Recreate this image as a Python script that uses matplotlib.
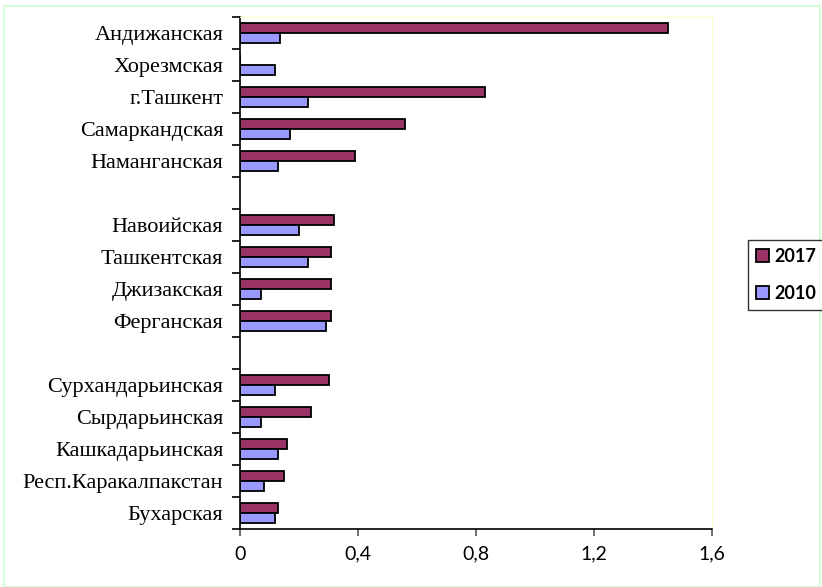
import numpy as np
import matplotlib
matplotlib.use('Agg')
import matplotlib.pyplot as plt
from matplotlib.patches import Rectangle

# данные (пустые строки — промежутки между группами)
regions = ['Андижанская', 'Хорезмская', 'г.Ташкент', 'Самаркандская', 'Наманганская',
           '', 'Навоийская', 'Ташкентская', 'Джизакская', 'Ферганская',
           '', 'Сурхандарьинская', 'Сырдарьинская', 'Кашкадарьинская',
           'Респ.Каракалпакстан', 'Бухарская']
v2017 = [1.45, 0.0, 0.83, 0.56, 0.39, np.nan, 0.32, 0.31, 0.31, 0.31,
         np.nan, 0.30, 0.24, 0.16, 0.15, 0.13]
v2010 = [0.135, 0.12, 0.23, 0.17, 0.13, np.nan, 0.20, 0.23, 0.07, 0.29,
         np.nan, 0.12, 0.07, 0.13, 0.08, 0.12]
xticks = [0, 0.4, 0.8, 1.2, 1.6]
xtick_labels = ['0', '0,4', '0,8', '1,2', '1,6']

fig = plt.figure(figsize=(8.22, 5.87), dpi=100)
# рамка области диаграммы
fig.patches.append(Rectangle((4 / 822, 0), 816 / 822, 581 / 587, transform=fig.transFigure,
                             fill=False, edgecolor='#ccffcc', linewidth=1.2))

ax = fig.add_axes([240 / 822, 58 / 587, 472 / 822, 512 / 587])
y = np.arange(len(regions))
h = 0.31
ax.barh(y - h / 2, v2017, height=h, color='#993366', edgecolor='black', linewidth=1.3, label='2017')
ax.barh(y + h / 2, v2010, height=h, color='#9999FF', edgecolor='black', linewidth=1.3, label='2010')

ax.set_ylim(len(regions) - 0.5, -0.5)
ax.set_xlim(0, 1.6)

ax.set_yticks(y)
ax.set_yticklabels(regions, fontfamily='Liberation Serif', fontsize=16)
ax.tick_params(axis='y', which='major', length=0, pad=12)
ax.set_yticks(np.arange(-0.5, len(regions)), minor=True)
ax.tick_params(axis='y', which='minor', length=6, width=1.2, direction='out')

ax.set_xticks(xticks)
ax.set_xticklabels(xtick_labels, fontfamily='Lato', fontsize=14)
ax.tick_params(axis='x', length=5, width=1.2, direction='out', pad=7, color='#555555')

ax.spines['top'].set_color('#ffffcc')
ax.spines['right'].set_color('#ffffcc')
ax.spines['left'].set_linewidth(1.2)
ax.spines['bottom'].set_linewidth(1.2)

leg = fig.legend(loc='upper left', bbox_to_anchor=(748 / 822, 1 - 240 / 587),
                 prop={'family': 'Lato', 'weight': 'bold', 'size': 13},
                 frameon=True, fancybox=False, edgecolor='black',
                 handlelength=0.7, handleheight=0.7, handletextpad=0.3,
                 labelspacing=1.1, borderpad=0.45, borderaxespad=0)
leg.get_frame().set_linewidth(1.0)

fig.savefig('out.png', dpi=100)
